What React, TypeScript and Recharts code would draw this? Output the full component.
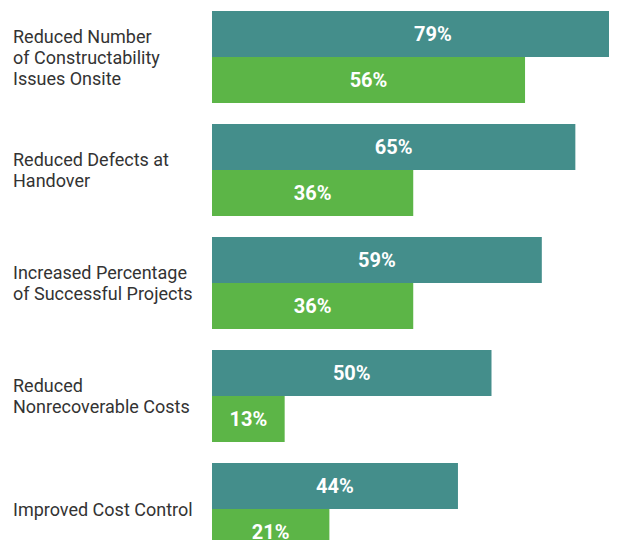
import { BarChart, Bar, XAxis, YAxis, LabelList } from "recharts";

const categories = [
  "Reduced Number\nof Constructability\nIssues Onsite",
  "Reduced Defects at\nHandover",
  "Increased Percentage\nof Successful Projects",
  "Reduced\nNonrecoverable Costs",
  "Improved Cost Control",
];
const tealValues = [79, 65, 59, 50, 44];
const greenValues = [56, 36, 36, 13, 21];

const data = categories.map((name, i) => ({
  name,
  teal: tealValues[i],
  green: greenValues[i],
}));

const TEAL = "#448e8b";
const GREEN = "#5cb547";
const FONT = "Roboto, sans-serif";

function CategoryTick({ y, payload }: any) {
  const lines = String(payload.value).split("\n");
  const lineHeight = 21;
  const startY = y - ((lines.length - 1) * lineHeight) / 2;
  return (
    <text x={13} y={startY} fill="#333333" fontSize={18} fontFamily={FONT} dominantBaseline="central">
      {lines.map((line, i) => (
        <tspan key={i} x={13} y={startY + i * lineHeight}>
          {line}
        </tspan>
      ))}
    </text>
  );
}

const pct = (v: any) => `${v}%`;

export default function App() {
  return (
    <div style={{ margin: -8, width: 617, height: 548, overflow: "hidden", background: "#fff" }}>
      <BarChart
        width={771}
        height={565}
        data={data}
        layout="vertical"
        margin={{ top: 0, right: 0, bottom: 0, left: 0 }}
        barCategoryGap={11}
        barGap={0}
      >
        <XAxis type="number" domain={[0, 100]} hide />
        <YAxis
          type="category"
          dataKey="name"
          width={212}
          axisLine={false}
          tickLine={false}
          tick={<CategoryTick />}
          interval={0}
        />
        <Bar dataKey="teal" fill={TEAL} isAnimationActive={false}>
          <LabelList dataKey="teal" position="center" formatter={pct} fill="#ffffff" fontSize={20} fontWeight={700} fontFamily={FONT} />
        </Bar>
        <Bar dataKey="green" fill={GREEN} isAnimationActive={false}>
          <LabelList dataKey="green" position="center" formatter={pct} fill="#ffffff" fontSize={20} fontWeight={700} fontFamily={FONT} />
        </Bar>
      </BarChart>
    </div>
  );
}
